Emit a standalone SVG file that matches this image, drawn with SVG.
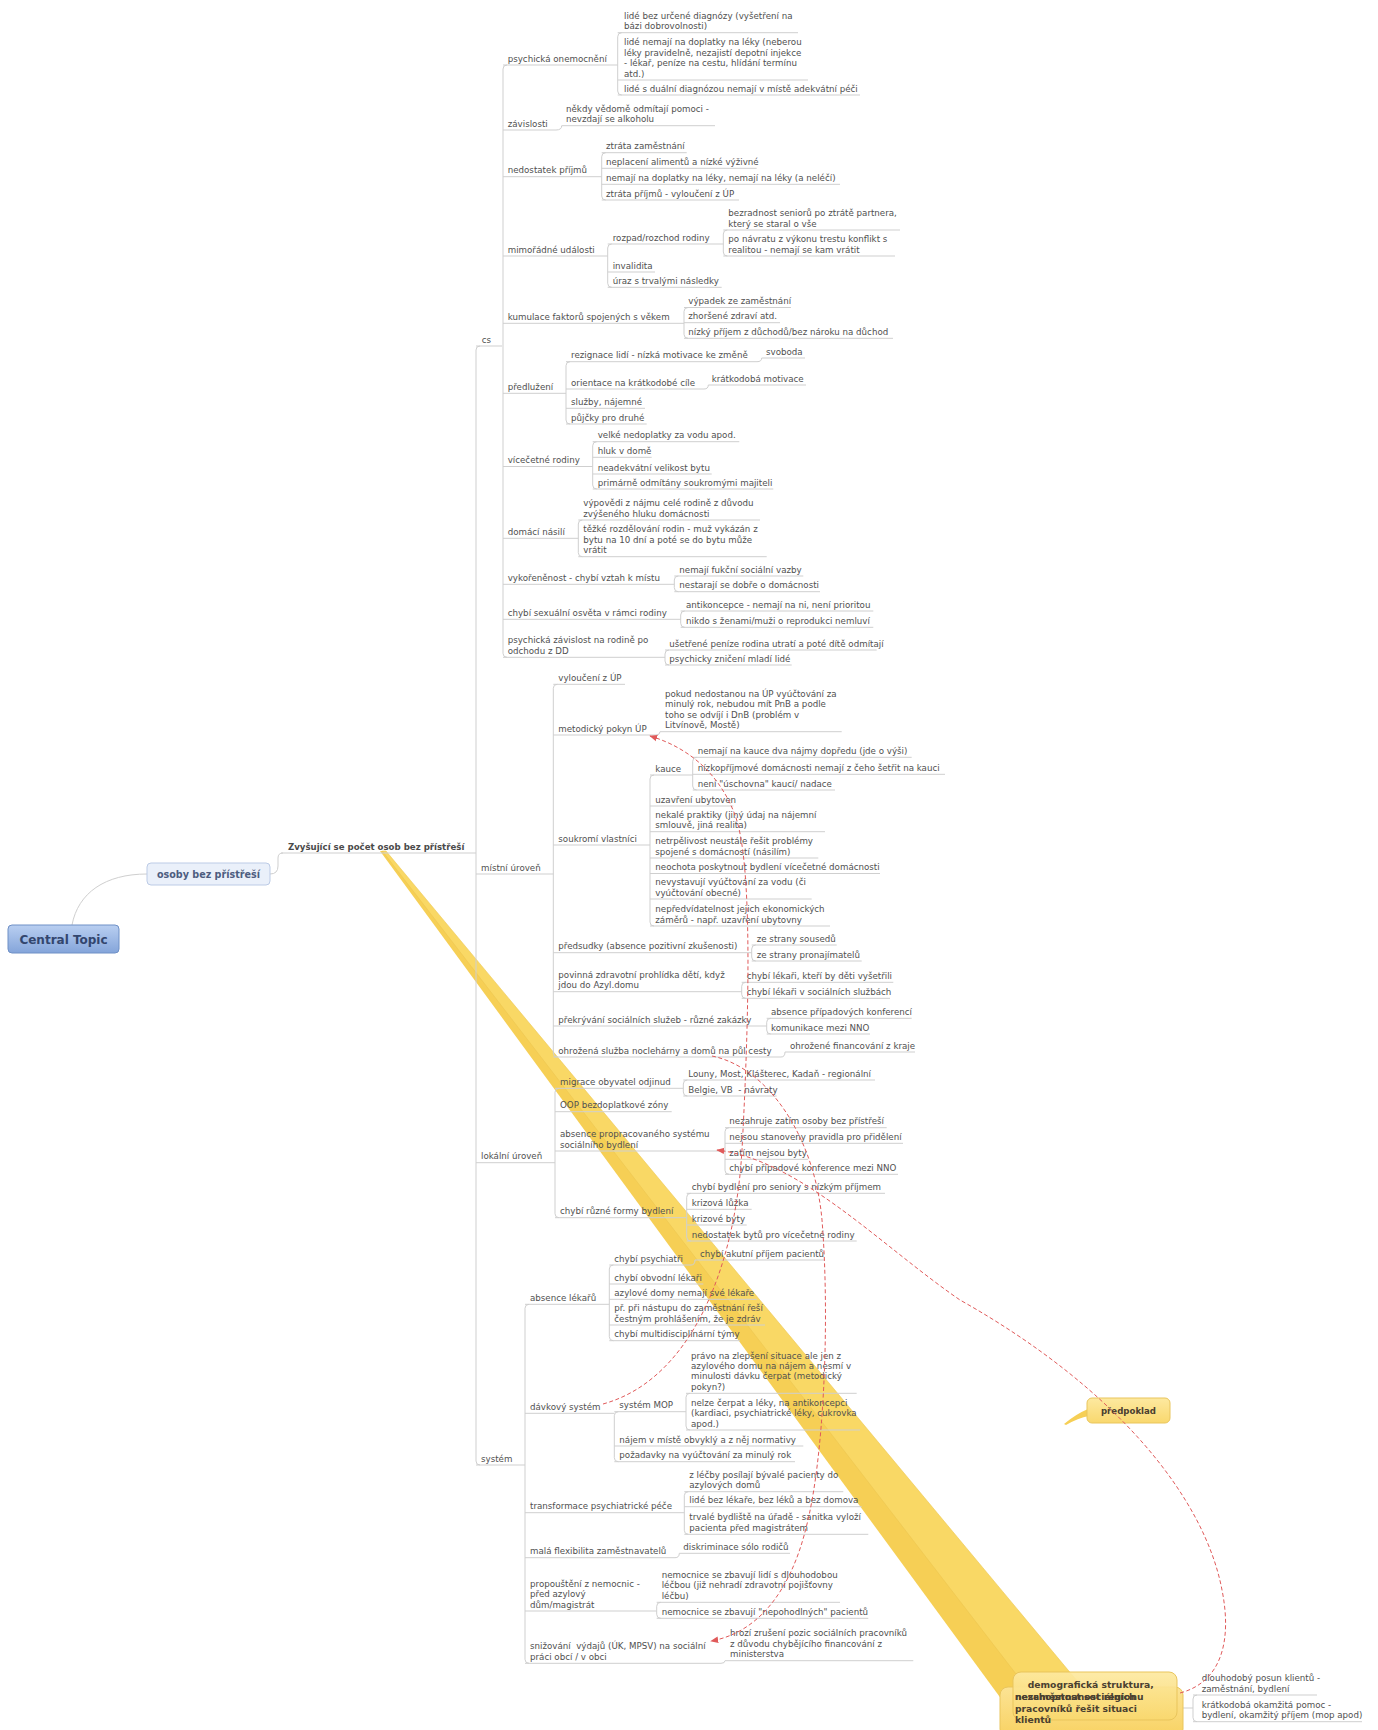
<svg xmlns="http://www.w3.org/2000/svg" width="1378" height="1730" viewBox="0 0 1378 1730">
<style>
.t{font-family:"DejaVu Sans",Verdana,sans-serif;font-size:8.7px;fill:#505050}
.u{stroke:#cfcfcf;stroke-width:1;fill:none}
.c{stroke:#cfcfcf;stroke-width:1;fill:none}
.rel{stroke:#e05a5a;stroke-width:1;stroke-dasharray:4 2.5;fill:none;marker-end:url(#arr)}
.yb{font-family:"DejaVu Sans",Verdana,sans-serif;font-weight:bold;font-size:9.2px;fill:#4a4030}
.pre{white-space:pre}
</style>
<defs>
<linearGradient id="gBlue" x1="0" y1="0" x2="0" y2="1"><stop offset="0" stop-color="#b9cff1"/><stop offset="1" stop-color="#84a5da"/></linearGradient>
<linearGradient id="gY1" x1="0" y1="0" x2="0" y2="1"><stop offset="0" stop-color="#fde9a0"/><stop offset="1" stop-color="#f9d86e"/></linearGradient>
<linearGradient id="gY2" x1="0" y1="0" x2="0" y2="1"><stop offset="0" stop-color="#fce394"/><stop offset="1" stop-color="#f8d262"/></linearGradient>
<marker id="arr" viewBox="0 0 10 10" refX="9" refY="5" markerWidth="8" markerHeight="8" orient="auto"><path d="M0,1 L10,5 L0,9 z" fill="#e05a5a"/></marker>
</defs>
<rect width="1378" height="1730" fill="#ffffff"/>

<g id="wedges">
<polygon points="380,851 383.7,851 1058,1700 1002,1700" fill="#f6cf55"/>
<polygon points="382.3,851 386,851 1093,1700 1036,1700" fill="#f9d865" stroke="#ecc650" stroke-width="0.6"/>
<path d="M1088,1409 Q1076,1414 1064,1424 L1066,1425 Q1078,1418 1089,1416 Z" fill="#f6cf55"/>
</g>

<g id="connectors">
<path class="c" d="M72,925 C78,893 105,874 147,874"/>
<path class="c" d="M270,874 Q278,874 278,866 V858 Q278,853 283,853"/>
<path class="c" d="M472,853 H476"/>
<path class="c" d="M480,346 Q476,346 476,350 V1461 Q476,1465 480,1465"/>
<path class="c" d="M507,65 Q503,65 503,69 V653.3 Q503,657.3 507,657.3"/>
<path class="c" d="M621.7,32.7 Q617.7,32.7 617.7,36.7 V91 Q617.7,95 621.7,95"/>
<path class="c" d="M556,130 Q561.7,130 561.7,125.7"/>
<path class="c" d="M605.7,152.7 Q601.7,152.7 601.7,156.7 V196 Q601.7,200 605.7,200"/>
<path class="c" d="M611.7,244 Q607.7,244 607.7,248 V283.3 Q607.7,287.3 611.7,287.3"/>
<path class="c" d="M727.3,230 Q723.3,230 723.3,234 V252 Q723.3,256 727.3,256"/>
<path class="c" d="M688,307.5 Q684,307.5 684,311.5 V334.3 Q684,338.3 688,338.3"/>
<path class="c" d="M570,361.7 Q566,361.7 566,365.7 V420 Q566,424 570,424"/>
<path class="c" d="M757,361.7 Q761.7,361.7 761.7,358"/>
<path class="c" d="M704,389 Q708.3,389 708.3,385"/>
<path class="c" d="M596.7,441.7 Q592.7,441.7 592.7,445.7 V485 Q592.7,489 596.7,489"/>
<path class="c" d="M582.3,520 Q578.3,520 578.3,524 V552.7 Q578.3,556.7 582.3,556.7"/>
<path class="c" d="M678.3,576 Q674.3,576 674.3,580 V587.7 Q674.3,591.7 678.3,591.7"/>
<path class="c" d="M684.7,611 Q680.7,611 680.7,615 V623.3 Q680.7,627.3 684.7,627.3"/>
<path class="c" d="M669,650 Q665,650 665,654 V661 Q665,665 669,665"/>
<path class="c" d="M557.3,684.3 Q553.3,684.3 553.3,688.3 V1053 Q553.3,1057 557.3,1057"/>
<path class="c" d="M656,735 Q660,735 660,731.7"/>
<path class="c" d="M654,775 Q650,775 650,779 V922 Q650,926 654,926"/>
<path class="c" d="M696.7,757.3 Q692.7,757.3 692.7,761.3 V786 Q692.7,790 696.7,790"/>
<path class="c" d="M755.7,945 Q751.7,945 751.7,949 V957 Q751.7,961 755.7,961"/>
<path class="c" d="M745.7,982.3 Q741.7,982.3 741.7,986.3 V994.3 Q741.7,998.3 745.7,998.3"/>
<path class="c" d="M770.7,1018.3 Q766.7,1018.3 766.7,1022.3 V1030 Q766.7,1034 770.7,1034"/>
<path class="c" d="M781,1057 Q785,1057 785,1052"/>
<path class="c" d="M559,1088.3 Q555,1088.3 555,1092.3 V1213.7 Q555,1217.7 559,1217.7"/>
<path class="c" d="M687.3,1080 Q683.3,1080 683.3,1084 V1092 Q683.3,1096 687.3,1096"/>
<path class="c" d="M729,1127.7 Q725,1127.7 725,1131.7 V1170.3 Q725,1174.3 729,1174.3"/>
<path class="c" d="M690.7,1193.3 Q686.7,1193.3 686.7,1197.3 V1237 Q686.7,1241 690.7,1241"/>
<path class="c" d="M529,1304.3 Q525,1304.3 525,1308.3 V1659.3 Q525,1663.3 529,1663.3"/>
<path class="c" d="M613.3,1265 Q609.3,1265 609.3,1269 V1336.7 Q609.3,1340.7 613.3,1340.7"/>
<path class="c" d="M691,1265 Q695,1265 695,1260"/>
<path class="c" d="M618.3,1411.7 Q614.3,1411.7 614.3,1415.7 V1457.7 Q614.3,1461.7 618.3,1461.7"/>
<path class="c" d="M690,1393.3 Q686,1393.3 686,1397.3 V1426 Q686,1430 690,1430"/>
<path class="c" d="M688.3,1491.7 Q684.3,1491.7 684.3,1495.7 V1530.3 Q684.3,1534.3 688.3,1534.3"/>
<path class="c" d="M675,1557.7 Q679.3,1557.7 679.3,1553.3"/>
<path class="c" d="M660.7,1602.3 Q656.7,1602.3 656.7,1606.3 V1614.3 Q656.7,1618.3 660.7,1618.3"/>
<path class="c" d="M721,1663.3 Q725,1663.3 725,1660.7"/>
<path class="c" d="M1183,1708 H1193"/>
<path class="c" d="M1197,1695 Q1193,1695 1193,1699 V1717.7 Q1193,1721.7 1197,1721.7"/>
</g>

<g id="central-topic"><rect x="8" y="925" width="111" height="28" rx="4" fill="url(#gBlue)" stroke="#6f90c6"/><text x="63.5" y="943.5" text-anchor="middle" font-family="DejaVu Sans,Verdana,sans-serif" font-weight="bold" font-size="12" fill="#33466e">Central Topic</text></g>
<g id="n-osoby"><rect x="147" y="863" width="123" height="22" rx="4" fill="#eaf0fa" stroke="#bccbe6"/><text x="208.5" y="877.8" text-anchor="middle" font-family="DejaVu Sans,Verdana,sans-serif" font-weight="bold" font-size="9.6" fill="#4d5d80">osoby bez přístřeší</text></g>
<g id="n-zvysujici"><text x="288" y="849.5" font-family="DejaVu Sans,Verdana,sans-serif" font-weight="bold" font-size="8.6" fill="#4a4a4a">Zvyšující se počet osob bez přístřeší</text><path class="u" d="M281,853 H472"/></g>

<g id="n-cs"><text class="t" x="481.7" y="342.5">cs</text><path class="u" d="M476,346 H502"/></g>
<g id="n-psych"><text class="t" x="507.7" y="61.5">psychická onemocnění</text><path class="u" d="M503,65 H617.7"/></g>
<g id="n-psych1"><text class="t" x="624" y="18.8">lidé bez určené diagnózy (vyšetření na</text><text class="t" x="624" y="29.2">bázi dobrovolnosti)</text><path class="u" d="M617.7,32.7 H798"/></g>
<g id="n-psych2"><text class="t" x="624" y="45.3">lidé nemají na doplatky na léky (neberou</text><text class="t" x="624" y="55.7">léky pravidelně, nezajistí depotní injekce</text><text class="t" x="624" y="66.1">- lékař, peníze na cestu, hlídání termínu</text><text class="t" x="624" y="76.5">atd.)</text><path class="u" d="M617.7,80 H808"/></g>
<g id="n-psych3"><text class="t" x="624" y="91.5">lidé s duální diagnózou nemají v místě adekvátní péči</text><path class="u" d="M617.7,95 H860"/></g>
<g id="n-zav"><text class="t" x="507.7" y="126.5">závislosti</text><path class="u" d="M503,130 H556"/></g>
<g id="n-zav1"><text class="t" x="566" y="111.8">někdy vědomě odmítají pomoci -</text><text class="t" x="566" y="122.2">nevzdají se alkoholu</text><path class="u" d="M561.7,125.7 H715"/></g>
<g id="n-ned"><text class="t" x="507.7" y="173.2">nedostatek příjmů</text><path class="u" d="M503,176.7 H601.7"/></g>
<g id="n-ned1"><text class="t" x="606" y="149.2">ztráta zaměstnání</text><path class="u" d="M601.7,152.7 H686.7"/></g>
<g id="n-ned2"><text class="t" x="606" y="164.8">neplacení alimentů a nízké výživné</text><path class="u" d="M601.7,168.3 H756.7"/></g>
<g id="n-ned3"><text class="t" x="606" y="180.8">nemají na doplatky na léky, nemají na léky (a neléčí)</text><path class="u" d="M601.7,184.3 H840"/></g>
<g id="n-ned4"><text class="t" x="606" y="196.5">ztráta příjmů - vyloučení z ÚP</text><path class="u" d="M601.7,200 H739"/></g>
<g id="n-mim"><text class="t" x="507.7" y="252.5">mimořádné události</text><path class="u" d="M503,256 H607.7"/></g>
<g id="n-roz"><text class="t" x="612.7" y="240.5">rozpad/rozchod rodiny</text><path class="u" d="M607.7,244 H723.3"/></g>
<g id="n-bez"><text class="t" x="728.3" y="216.1">bezradnost seniorů po ztrátě partnera,</text><text class="t" x="728.3" y="226.5">který se staral o vše</text><path class="u" d="M723.3,230 H900"/></g>
<g id="n-ponav"><text class="t" x="728.3" y="242.1">po návratu z výkonu trestu konflikt s</text><text class="t" x="728.3" y="252.5">realitou - nemají se kam vrátit</text><path class="u" d="M723.3,256 H895"/></g>
<g id="n-inval"><text class="t" x="612.7" y="268.5">invalidita</text><path class="u" d="M607.7,272 H655"/></g>
<g id="n-uraz"><text class="t" x="612.7" y="283.8">úraz s trvalými následky</text><path class="u" d="M607.7,287.3 H721.7"/></g>
<g id="n-kum"><text class="t" x="507.7" y="319.8">kumulace faktorů spojených s věkem</text><path class="u" d="M503,323.3 H684"/></g>
<g id="n-kum1"><text class="t" x="688.3" y="304">výpadek ze zaměstnání</text><path class="u" d="M684,307.5 H791"/></g>
<g id="n-kum2"><text class="t" x="688.3" y="319.2">zhoršené zdraví atd.</text><path class="u" d="M684,322.7 H780"/></g>
<g id="n-kum3"><text class="t" x="688.3" y="334.8">nízký příjem z důchodů/bez nároku na důchod</text><path class="u" d="M684,338.3 H893"/></g>
<g id="n-pred"><text class="t" x="507.7" y="389.8">předlužení</text><path class="u" d="M503,393.3 H566"/></g>
<g id="n-rez"><text class="t" x="571" y="358.2">rezignace lidí - nízká motivace ke změně</text><path class="u" d="M566,361.7 H757"/></g>
<g id="n-svob"><text class="t" x="766" y="354.5">svoboda</text><path class="u" d="M761.7,358 H805"/></g>
<g id="n-ori"><text class="t" x="571" y="385.5">orientace na krátkodobé cíle</text><path class="u" d="M566,389 H704"/></g>
<g id="n-krat"><text class="t" x="711.7" y="381.5">krátkodobá motivace</text><path class="u" d="M708.3,385 H806"/></g>
<g id="n-sluz"><text class="t" x="571" y="404.8">služby, nájemné</text><path class="u" d="M566,408.3 H645"/></g>
<g id="n-pujc"><text class="t" x="571" y="420.5">půjčky pro druhé</text><path class="u" d="M566,424 H646.7"/></g>
<g id="n-vic"><text class="t" x="507.7" y="463">vícečetné rodiny</text><path class="u" d="M503,466.5 H592.7"/></g>
<g id="n-vel"><text class="t" x="597.7" y="438.2">velké nedoplatky za vodu apod.</text><path class="u" d="M592.7,441.7 H739.3"/></g>
<g id="n-hluk"><text class="t" x="597.7" y="453.8">hluk v domě</text><path class="u" d="M592.7,457.3 H651.7"/></g>
<g id="n-nead"><text class="t" x="597.7" y="470.5">neadekvátní velikost bytu</text><path class="u" d="M592.7,474 H711.7"/></g>
<g id="n-prim"><text class="t" x="597.7" y="485.5">primárně odmítány soukromými majiteli</text><path class="u" d="M592.7,489 H773.3"/></g>
<g id="n-dom"><text class="t" x="507.7" y="534.8">domácí násilí</text><path class="u" d="M503,538.3 H578.3"/></g>
<g id="n-vypov"><text class="t" x="583.3" y="506.1">výpovědi z nájmu celé rodině z důvodu</text><text class="t" x="583.3" y="516.5">zvýšeného hluku domácnosti</text><path class="u" d="M578.3,520 H760"/></g>
<g id="n-tezk"><text class="t" x="583.3" y="532.4">těžké rozdělování rodin - muž vykázán z</text><text class="t" x="583.3" y="542.8">bytu na 10 dní a poté se do bytu může</text><text class="t" x="583.3" y="553.2">vrátit</text><path class="u" d="M578.3,556.7 H766.7"/></g>
<g id="n-vyk"><text class="t" x="507.7" y="580.8">vykořeněnost - chybí vztah k místu</text><path class="u" d="M503,584.3 H674.3"/></g>
<g id="n-vyk1"><text class="t" x="679.3" y="572.5">nemají fukční sociální vazby</text><path class="u" d="M674.3,576 H803.3"/></g>
<g id="n-vyk2"><text class="t" x="679.3" y="588.2">nestarají se dobře o domácnosti</text><path class="u" d="M674.3,591.7 H820"/></g>
<g id="n-sex"><text class="t" x="507.7" y="615.8">chybí sexuální osvěta v rámci rodiny</text><path class="u" d="M503,619.3 H680.7"/></g>
<g id="n-sex1"><text class="t" x="686" y="607.5">antikoncepce - nemají na ni, není prioritou</text><path class="u" d="M680.7,611 H873.3"/></g>
<g id="n-sex2"><text class="t" x="686" y="623.8">nikdo s ženami/muži o reprodukci nemluví</text><path class="u" d="M680.7,627.3 H873.3"/></g>
<g id="n-pzav"><text class="t" x="507.7" y="643.4">psychická závislost na rodině po</text><text class="t" x="507.7" y="653.8">odchodu z DD</text><path class="u" d="M503,657.3 H665"/></g>
<g id="n-pzav1"><text class="t" x="669.3" y="646.5">ušetřené peníze rodina utratí a poté dítě odmítají</text><path class="u" d="M665,650 H876.7"/></g>
<g id="n-pzav2"><text class="t" x="669.3" y="661.5">psychicky zničení mladí lidé</text><path class="u" d="M665,665 H791.7"/></g>

<g id="n-mist"><text class="t" x="481" y="870.5">místní úroveň</text><path class="u" d="M476,874 H553.3"/></g>
<g id="n-vyl"><text class="t" x="558.3" y="680.8">vyloučení z ÚP</text><path class="u" d="M553.3,684.3 H625"/></g>
<g id="n-met"><text class="t" x="558.3" y="731.5">metodický pokyn ÚP</text><path class="u" d="M553.3,735 H656"/></g>
<g id="n-met1"><text class="t" x="665" y="697">pokud nedostanou na ÚP vyúčtování za</text><text class="t" x="665" y="707.4">minulý rok, nebudou mít PnB a podle</text><text class="t" x="665" y="717.8">toho se odvíjí i DnB (problém v</text><text class="t" x="665" y="728.2">Litvínově, Mostě)</text><path class="u" d="M660,731.7 H841.7"/></g>
<g id="n-souk"><text class="t" x="558.3" y="841.5">soukromí vlastníci</text><path class="u" d="M553.3,845 H650"/></g>
<g id="n-kauce"><text class="t" x="655.3" y="771.5">kauce</text><path class="u" d="M650,775 H692.7"/></g>
<g id="n-k1"><text class="t" x="697.7" y="753.8">nemají na kauce dva nájmy dopředu (jde o výši)</text><path class="u" d="M692.7,757.3 H911.7"/></g>
<g id="n-k2"><text class="t" x="697.7" y="770.8">nízkopříjmové domácnosti nemají z čeho šetřit na kauci</text><path class="u" d="M692.7,774.3 H945"/></g>
<g id="n-k3"><text class="t" x="697.7" y="786.5">není "úschovna" kaucí/ nadace</text><path class="u" d="M692.7,790 H835"/></g>
<g id="n-uzav"><text class="t" x="655.3" y="802.5">uzavření ubytoven</text><path class="u" d="M650,806 H733.3"/></g>
<g id="n-nek"><text class="t" x="655.3" y="817.8">nekalé praktiky (jiný údaj na nájemní</text><text class="t" x="655.3" y="828.2">smlouvě, jiná realita)</text><path class="u" d="M650,831.7 H825"/></g>
<g id="n-netr"><text class="t" x="655.3" y="844.1">netrpělivost neustále řešit problémy</text><text class="t" x="655.3" y="854.5">spojené s domácností (násilím)</text><path class="u" d="M650,858 H818.3"/></g>
<g id="n-neoch"><text class="t" x="655.3" y="870">neochota poskytnout bydlení vícečetné domácnosti</text><path class="u" d="M650,873.5 H880"/></g>
<g id="n-nevyst"><text class="t" x="655.3" y="885.1">nevystavují vyúčtování za vodu (či</text><text class="t" x="655.3" y="895.5">vyúčtování obecné)</text><path class="u" d="M650,899 H811.7"/></g>
<g id="n-nepred"><text class="t" x="655.3" y="912.1">nepředvídatelnost jejich ekonomických</text><text class="t" x="655.3" y="922.5">záměrů - např. uzavření ubytovny</text><path class="u" d="M650,926 H830"/></g>
<g id="n-predsud"><text class="t" x="558.3" y="949.2">předsudky (absence pozitivní zkušenosti)</text><path class="u" d="M553.3,952.7 H751.7"/></g>
<g id="n-ps1"><text class="t" x="756.7" y="941.5">ze strany sousedů</text><path class="u" d="M751.7,945 H836.7"/></g>
<g id="n-ps2"><text class="t" x="756.7" y="957.5">ze strany pronajímatelů</text><path class="u" d="M751.7,961 H861.7"/></g>
<g id="n-povin"><text class="t" x="558.3" y="977.8">povinná zdravotní prohlídka dětí, když</text><text class="t" x="558.3" y="988.2">jdou do Azyl.domu</text><path class="u" d="M553.3,991.7 H741.7"/></g>
<g id="n-pov1"><text class="t" x="746.7" y="978.8">chybí lékaři, kteří by děti vyšetřili</text><path class="u" d="M741.7,982.3 H893.3"/></g>
<g id="n-pov2"><text class="t" x="746.7" y="994.8">chybí lékaři v sociálních službách</text><path class="u" d="M741.7,998.3 H890"/></g>
<g id="n-prekr"><text class="t" x="558.3" y="1022.5">překrývání sociálních služeb - různé zakázky</text><path class="u" d="M553.3,1026 H766.7"/></g>
<g id="n-pr1"><text class="t" x="771" y="1014.8">absence případových konferencí</text><path class="u" d="M766.7,1018.3 H911.7"/></g>
<g id="n-pr2"><text class="t" x="771" y="1030.5">komunikace mezi NNO</text><path class="u" d="M766.7,1034 H870"/></g>
<g id="n-ohr"><text class="t" x="558.3" y="1053.5">ohrožená služba noclehárny a domů na půl cesty</text><path class="u" d="M553.3,1057 H781"/></g>
<g id="n-ohr1"><text class="t" x="790" y="1048.5">ohrožené financování z kraje</text><path class="u" d="M785,1052 H915"/></g>

<g id="n-lok"><text class="t" x="481" y="1159.2">lokální úroveň</text><path class="u" d="M476,1162.7 H555"/></g>
<g id="n-migr"><text class="t" x="560" y="1084.8">migrace obyvatel odjinud</text><path class="u" d="M555,1088.3 H683.3"/></g>
<g id="n-m1"><text class="t" x="688.3" y="1076.5">Louny, Most, Klášterec, Kadaň - regionální</text><path class="u" d="M683.3,1080 H875"/></g>
<g id="n-m2"><text class="t pre" x="688.3" y="1092.5">Belgie, VB  - návraty</text><path class="u" d="M683.3,1096 H776.7"/></g>
<g id="n-oop"><text class="t" x="560" y="1108.2">OOP bezdoplatkové zóny</text><path class="u" d="M555,1111.7 H671.7"/></g>
<g id="n-abs"><text class="t" x="560" y="1137.1">absence propracovaného systému</text><text class="t" x="560" y="1147.5">sociálního bydlení</text><path class="u" d="M555,1151 H725"/></g>
<g id="n-a1"><text class="t" x="729.3" y="1124.2">nezahruje zatím osoby bez přístřeší</text><path class="u" d="M725,1127.7 H886.7"/></g>
<g id="n-a2"><text class="t" x="729.3" y="1139.8">nejsou stanoveny pravidla pro přidělení</text><path class="u" d="M725,1143.3 H903"/></g>
<g id="n-a3"><text class="t" x="729.3" y="1155.8">zatím nejsou byty</text><path class="u" d="M725,1159.3 H808"/></g>
<g id="n-a4"><text class="t" x="729.3" y="1170.8">chybí případové konference mezi NNO</text><path class="u" d="M725,1174.3 H898"/></g>
<g id="n-formy"><text class="t" x="560" y="1214.2">chybí různé formy bydlení</text><path class="u" d="M555,1217.7 H686.7"/></g>
<g id="n-f1"><text class="t" x="691.7" y="1189.8">chybí bydlení pro seniory s nízkým příjmem</text><path class="u" d="M686.7,1193.3 H885"/></g>
<g id="n-f2"><text class="t" x="691.7" y="1205.8">krizová lůžka</text><path class="u" d="M686.7,1209.3 H751.7"/></g>
<g id="n-f3"><text class="t" x="691.7" y="1221.5">krizové byty</text><path class="u" d="M686.7,1225 H746.7"/></g>
<g id="n-f4"><text class="t" x="691.7" y="1237.5">nedostatek bytů pro vícečetné rodiny</text><path class="u" d="M686.7,1241 H856.7"/></g>

<g id="n-sys"><text class="t" x="481" y="1461.5">systém</text><path class="u" d="M476,1465 H525"/></g>
<g id="n-lek"><text class="t" x="530" y="1300.8">absence lékařů</text><path class="u" d="M525,1304.3 H609.3"/></g>
<g id="n-psychiatri"><text class="t" x="614.3" y="1261.5">chybí psychiatři</text><path class="u" d="M609.3,1265 H691"/></g>
<g id="n-akut"><text class="t" x="700" y="1256.5">chybí akutní příjem pacientů</text><path class="u" d="M695,1260 H825"/></g>
<g id="n-obv"><text class="t" x="614.3" y="1280.5">chybí obvodní lékaři</text><path class="u" d="M609.3,1284 H703.3"/></g>
<g id="n-azyl"><text class="t" x="614.3" y="1295.8">azylové domy nemají své lékaře</text><path class="u" d="M609.3,1299.3 H756.7"/></g>
<g id="n-pri"><text class="t" x="614.3" y="1311.1">př. při nástupu do zaměstnání řeší</text><text class="t" x="614.3" y="1321.5">čestným prohlášením, že je zdráv</text><path class="u" d="M609.3,1325 H765"/></g>
<g id="n-multi"><text class="t" x="614.3" y="1337.2">chybí multidisciplinární týmy</text><path class="u" d="M609.3,1340.7 H740"/></g>
<g id="n-davk"><text class="t" x="530" y="1409.8">dávkový systém</text><path class="u" d="M525,1413.3 H614.3"/></g>
<g id="n-mop"><text class="t" x="619.3" y="1408.2">systém MOP</text><path class="u" d="M614.3,1411.7 H686"/></g>
<g id="n-pravo"><text class="t" x="691" y="1358.6">právo na zlepšení situace ale jen z</text><text class="t" x="691" y="1369">azylového domu na nájem a nesmí v</text><text class="t" x="691" y="1379.4">minulosti dávku čerpat (metodický</text><text class="t" x="691" y="1389.8">pokyn?)</text><path class="u" d="M686,1393.3 H856.7"/></g>
<g id="n-nelze"><text class="t" x="691" y="1405.7">nelze čerpat a léky, na antikoncepci</text><text class="t" x="691" y="1416.1">(kardiaci, psychiatrické léky, cukrovka</text><text class="t" x="691" y="1426.5">apod.)</text><path class="u" d="M686,1430 H860"/></g>
<g id="n-najem"><text class="t" x="619.3" y="1442.5">nájem v místě obvyklý a z něj normativy</text><path class="u" d="M614.3,1446 H803.3"/></g>
<g id="n-pozad"><text class="t" x="619.3" y="1458.2">požadavky na vyúčtování za minulý rok</text><path class="u" d="M614.3,1461.7 H795"/></g>
<g id="n-trans"><text class="t" x="530" y="1509.2">transformace psychiatrické péče</text><path class="u" d="M525,1512.7 H684.3"/></g>
<g id="n-t1"><text class="t" x="689.3" y="1477.8">z léčby posílají bývalé pacienty do</text><text class="t" x="689.3" y="1488.2">azylových domů</text><path class="u" d="M684.3,1491.7 H843.3"/></g>
<g id="n-t2"><text class="t" x="689.3" y="1503.2">lidé bez lékaře, bez léků a bez domova</text><path class="u" d="M684.3,1506.7 H861.7"/></g>
<g id="n-t3"><text class="t" x="689.3" y="1520.4">trvalé bydliště na úřadě - sanitka vyloží</text><text class="t" x="689.3" y="1530.8">pacienta před magistrátem</text><path class="u" d="M684.3,1534.3 H868.3"/></g>
<g id="n-mala"><text class="t" x="530" y="1554.2">malá flexibilita zaměstnavatelů</text><path class="u" d="M525,1557.7 H675"/></g>
<g id="n-mala1"><text class="t" x="683.3" y="1549.8">diskriminace sólo rodičů</text><path class="u" d="M679.3,1553.3 H790"/></g>
<g id="n-prop"><text class="t" x="530" y="1586.7">propouštění z nemocnic -</text><text class="t" x="530" y="1597.1">před azylový</text><text class="t" x="530" y="1607.5">dům/magistrát</text><path class="u" d="M525,1611 H656.7"/></g>
<g id="n-p1"><text class="t" x="661.7" y="1578">nemocnice se zbavují lidí s dlouhodobou</text><text class="t" x="661.7" y="1588.4">léčbou (již nehradí zdravotní pojišťovny</text><text class="t" x="661.7" y="1598.8">léčbu)</text><path class="u" d="M656.7,1602.3 H840"/></g>
<g id="n-p2"><text class="t" x="661.7" y="1614.8">nemocnice se zbavují "nepohodlných" pacientů</text><path class="u" d="M656.7,1618.3 H868.3"/></g>
<g id="n-sniz"><text class="t pre" x="530" y="1649.4">snižování  výdajů (ÚK, MPSV) na sociální</text><text class="t" x="530" y="1659.8">práci obcí / v obci</text><path class="u" d="M525,1663.3 H721"/></g>
<g id="n-sniz1"><text class="t" x="730" y="1636.4">hrozí zrušení pozic sociálních pracovníků</text><text class="t" x="730" y="1646.8">z důvodu chybějícího financování z</text><text class="t" x="730" y="1657.2">ministerstva</text><path class="u" d="M725,1660.7 H913.3"/></g>

<g id="n-predpoklad"><rect x="1087" y="1398" width="83" height="25" rx="5" fill="url(#gY1)" stroke="#e9c55c"/><text x="1128.5" y="1413.8" text-anchor="middle" font-family="DejaVu Sans,Verdana,sans-serif" font-weight="bold" font-size="8.6" fill="#4a4030">předpoklad</text></g>
<g id="n-nedost-soc"><rect x="1000" y="1687" width="183" height="50" rx="8" fill="url(#gY2)" stroke="#e9c55c"/></g>
<g id="n-demograf"><rect x="1013" y="1672" width="164" height="48" rx="8" fill="url(#gY1)" stroke="#e9c55c" fill-opacity="0.92"/><text class="yb" x="1027.7" y="1688">demografická struktura,</text><text class="yb" x="1015" y="1700">nezaměstnanost regionu</text></g>
<g id="n-nedost-soc-text"><text class="yb" x="1015" y="1700">neschopnost sociálních</text><text class="yb" x="1015" y="1711.5">pracovníků řešit situaci</text><text class="yb" x="1015" y="1723">klientů</text></g>
<g id="n-dlouho"><text class="t" x="1201.7" y="1681.1">dlouhodobý posun klientů -</text><text class="t" x="1201.7" y="1691.5">zaměstnání, bydlení</text><path class="u" d="M1193,1695 H1317"/></g>
<g id="n-kratk"><text class="t" x="1201.7" y="1707.8">krátkodobá okamžitá pomoc -</text><text class="t" x="1201.7" y="1718.2">bydlení, okamžitý příjem (mop apod)</text><path class="u" d="M1193,1721.7 H1362"/></g>

<g id="relations">
<path class="rel" d="M603,1404 C690,1380 735,1270 742,1150 C750,1000 752,860 735,815 C720,775 690,748 650,736"/>
<path class="rel" d="M712,1056 C770,1068 815,1140 822,1220 C830,1320 824,1460 806,1528 C792,1585 762,1632 711,1641"/>
<path class="rel" d="M1180,1693 C1222,1682 1232,1640 1222,1590 C1205,1500 1120,1390 960,1300 C880,1245 800,1160 717,1150"/>
</g>
</svg>
